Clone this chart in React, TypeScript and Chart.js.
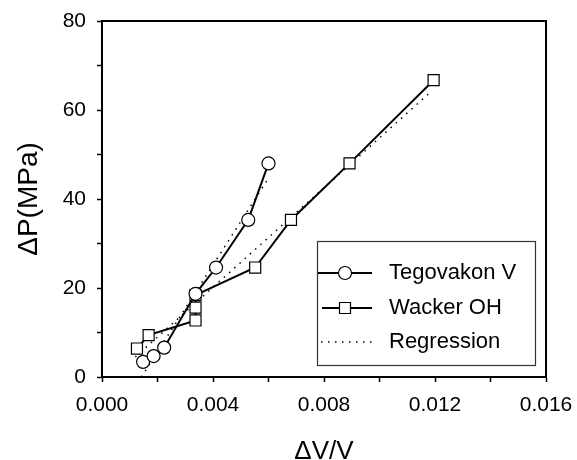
import React, { useEffect, useRef } from 'react';
import { Chart, registerables } from 'chart.js';

Chart.register(...registerables);

// Tegovakon V (circles)
const tegoX = [0.00148, 0.00186, 0.00224, 0.00337, 0.00411, 0.00527, 0.0060];
const tegoY = [3.4, 4.7, 6.6, 18.7, 24.6, 35.3, 48.0];
// Wacker OH (squares)
const wackX = [0.00126, 0.00168, 0.00337, 0.00337, 0.00337, 0.00552, 0.00681, 0.00892, 0.01195];
const wackY = [6.4, 9.4, 12.7, 15.6, 18.4, 24.6, 35.3, 48.0, 66.7];
// Regression lines
const regTX = [0.00142, 0.00598];
const regTY = [0.0, 44.5];
const regWX = [0.0012, 0.0118];
const regWY = [4.5, 63.8];

const legendLabels = ['Tegovakon V', 'Wacker OH', 'Regression'];

const FONT = 'Arial, "Liberation Sans", sans-serif';

const pts = (xs: number[], ys: number[]) => xs.map((x, i) => ({ x, y: ys[i] }));

const framePlugin = {
  id: 'frame',
  afterDraw(chart: any) {
    const { ctx, chartArea: a } = chart;
    ctx.save();
    ctx.strokeStyle = '#000';
    ctx.lineWidth = 2;
    ctx.strokeRect(a.left, a.top, a.right - a.left, a.bottom - a.top);
    ctx.restore();
  },
};

const legendPlugin = {
  id: 'customLegend',
  afterDraw(chart: any) {
    const { ctx } = chart;
    const bx = 317, by = 241, bw = 218, bh = 124;
    ctx.save();
    ctx.fillStyle = '#fff';
    ctx.fillRect(bx, by, bw, bh);
    ctx.strokeStyle = '#333';
    ctx.lineWidth = 1.2;
    ctx.strokeRect(bx + 0.5, by + 0.5, bw, bh);
    const rows = [273, 308, 342];
    const x0 = bx + 1, x1 = bx + 55, mx = bx + 28;
    ctx.font = `22px ${FONT}`;
    ctx.textBaseline = 'middle';
    ctx.fillStyle = '#000';
    rows.forEach((ry, i) => {
      ctx.strokeStyle = '#000';
      if (i < 2) {
        ctx.setLineDash([]);
        ctx.lineWidth = 2;
        ctx.beginPath();
        ctx.moveTo(x0 + (i === 1 ? 4 : 0), ry);
        ctx.lineTo(x1, ry);
        ctx.stroke();
        ctx.lineWidth = 1.2;
        ctx.fillStyle = '#fff';
        ctx.beginPath();
        if (i === 0) ctx.arc(mx, ry, 6.5, 0, Math.PI * 2);
        else ctx.rect(mx - 5.5, ry - 5.5, 11, 11);
        ctx.fill();
        ctx.stroke();
      } else {
        ctx.lineWidth = 1.5;
        ctx.setLineDash([1.5, 5.5]);
        ctx.beginPath();
        ctx.moveTo(x0 + 3, ry);
        ctx.lineTo(x1, ry);
        ctx.stroke();
        ctx.setLineDash([]);
      }
      ctx.fillStyle = '#000';
      ctx.fillText(legendLabels[i], bx + 72, ry);
    });
    ctx.restore();
  },
};

export default function App() {
  const ref = useRef<HTMLCanvasElement>(null);
  useEffect(() => {
    if (!ref.current) return;
    const chart = new Chart(ref.current, {
      type: 'scatter',
      data: {
        datasets: [
          {
            label: 'Tegovakon V',
            data: pts(tegoX, tegoY),
            showLine: true,
            borderColor: '#000',
            borderWidth: 2,
            pointStyle: 'circle',
            pointRadius: 6.5,
            pointBackgroundColor: '#fff',
            pointBorderColor: '#000',
            pointBorderWidth: 1.2,
          },
          {
            label: 'Wacker OH',
            data: pts(wackX, wackY),
            showLine: true,
            borderColor: '#000',
            borderWidth: 2,
            pointStyle: 'rect',
            pointRadius: 7.8,
            pointBackgroundColor: '#fff',
            pointBorderColor: '#000',
            pointBorderWidth: 1.2,
          },
          {
            label: 'Regression',
            data: pts(regTX, regTY),
            showLine: true,
            borderColor: '#000',
            borderWidth: 1.5,
            borderDash: [1.5, 5.5],
            pointRadius: 0,
          },
          {
            label: 'Regression W',
            data: pts(regWX, regWY),
            showLine: true,
            borderColor: '#000',
            borderWidth: 1.5,
            borderDash: [1.5, 5.5],
            pointRadius: 0,
          },
        ],
      },
      options: {
        responsive: false,
        animation: false,
        layout: { padding: { top: 21, right: 31, left: 0, bottom: 0 } },
        plugins: { legend: { display: false }, tooltip: { enabled: false } },
        scales: {
          x: {
            type: 'linear',
            min: 0,
            max: 0.016,
            ticks: {
              stepSize: 0.002,
              autoSkip: false,
              maxRotation: 0,
              padding: 11,
              color: '#000',
              font: { family: FONT, size: 21 },
              callback: (v: any) => (Math.round(Number(v) * 1000) % 4 === 0 ? Number(v).toFixed(3) : ''),
            },
            grid: { drawOnChartArea: false, drawTicks: true, tickLength: 5, color: '#000', tickWidth: 1.5 },
            border: { display: true, color: '#000', width: 2 },
            title: { display: true, text: 'ΔV/V', color: '#000', font: { family: FONT, size: 26 }, padding: { top: 0, bottom: -7 } },
            afterFit: (s: any) => { s.height = 83; s.paddingLeft = 0; s.paddingRight = 0; },
          },
          y: {
            type: 'linear',
            min: 0,
            max: 80,
            ticks: {
              stepSize: 10,
              autoSkip: false,
              padding: 11,
              color: '#000',
              font: { family: FONT, size: 21 },
              callback: (v: any) => (Number(v) % 20 === 0 ? String(v) : ''),
            },
            grid: { drawOnChartArea: false, drawTicks: true, tickLength: 5, color: '#000', tickWidth: 1.5 },
            border: { display: true, color: '#000', width: 2 },
            title: { display: true, text: 'ΔP(MPa)', color: '#000', font: { family: FONT, size: 28 }, padding: { top: 12, bottom: 0 } },
            afterFit: (s: any) => { s.width = 102; s.paddingTop = 0; s.paddingBottom = 0; },
          },
        },
      },
      plugins: [framePlugin, legendPlugin],
    });
    return () => chart.destroy();
  }, []);
  return (
    <div style={{ position: 'absolute', left: 0, top: 0, width: 577, height: 460, background: '#fff' }}>
      <canvas ref={ref} width={577} height={460} style={{ display: 'block' }} />
    </div>
  );
}
